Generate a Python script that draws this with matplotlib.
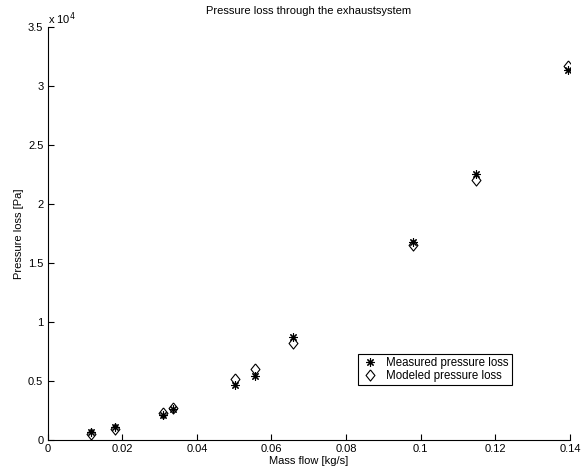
import numpy as np
import matplotlib
matplotlib.use("Agg")
import matplotlib.pyplot as plt
from matplotlib.ticker import FuncFormatter

plt.rcParams['font.family'] = ['Liberation Sans', 'DejaVu Sans']

# mass flow [kg/s]
mass_flow = [0.0117, 0.0182, 0.0310, 0.0337, 0.0502, 0.0557, 0.0659, 0.0978, 0.1147, 0.1395]
# pressure loss [Pa]
measured = [700, 1100, 2150, 2650, 4700, 5450, 8700, 16750, 22500, 31300]
modeled = [550, 900, 2250, 2750, 5150, 6050, 8250, 16550, 22050, 31700]

xticks = [0, 0.02, 0.04, 0.06, 0.08, 0.1, 0.12, 0.14]
yticks = [0, 5000, 10000, 15000, 20000, 25000, 30000, 35000]

# matlab-like diamond, a bit taller than wide
diamond = [(0, 1), (0.8, 0), (0, -1), (-0.8, 0), (0, 1)]

fig = plt.figure(figsize=(5.81, 4.72), dpi=100)
ax = fig.add_axes([0.0818, 0.0678, 0.8994, 0.8756])

ax.plot(mass_flow, measured, linestyle='none', marker=(8, 2, 0), markersize=6,
        markeredgewidth=0.8, color='black', label='Measured pressure loss')
ax.plot(mass_flow, modeled, linestyle='none', marker=diamond, markersize=8,
        markeredgewidth=0.8, markerfacecolor='none', markeredgecolor='black',
        label='Modeled pressure loss')

ax.set_xlim(0, 0.14)
ax.set_ylim(0, 35000)
ax.set_xticks(xticks)
ax.set_yticks(yticks)
ax.xaxis.set_major_formatter(FuncFormatter(lambda v, p: '%g' % round(v, 4)))
ax.yaxis.set_major_formatter(FuncFormatter(lambda v, p: '%g' % (v / 1e4)))
ax.tick_params(direction='in', length=4, width=0.8, labelsize=8, pad=3)

ax.spines['top'].set_visible(False)
ax.spines['right'].set_visible(False)
ax.spines['left'].set_linewidth(0.8)
ax.spines['bottom'].set_linewidth(0.8)

ax.text(0.0, 1.0, 'x 10$^{4}$', transform=ax.transAxes, fontsize=8,
        ha='left', va='bottom')

ax.set_title('Pressure loss through the exhaustsystem', fontsize=8, pad=9)
ax.set_xlabel('Mass flow [kg/s]', fontsize=8, labelpad=1)
ax.set_ylabel('Pressure loss [Pa]', fontsize=8, labelpad=3)

leg = ax.legend(loc='lower left', bbox_to_anchor=(0.594, 0.133), fontsize=8.3,
                fancybox=False, framealpha=1, edgecolor='black',
                borderpad=0.25, labelspacing=0.1, handletextpad=0.6,
                handlelength=1.6, borderaxespad=0)
leg.get_frame().set_linewidth(0.8)

fig.savefig('out.png', dpi=100)
